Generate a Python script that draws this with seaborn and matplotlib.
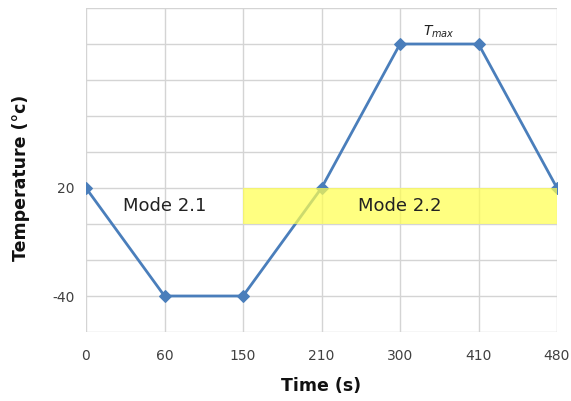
import matplotlib
matplotlib.use("Agg")
import matplotlib.pyplot as plt
import seaborn as sns
import pandas as pd
import numpy as np

time_labels = ["0", "60", "150", "210", "300", "410", "480"]
temperature = [20, -40, -40, 20, 100, 100, 20]
y_tick_values = [20, -40]
modes = ["Mode 2.1", "Mode 2.2"]

sns.set_theme(style="white")
plt.rcParams['font.family'] = ['DejaVu Sans']

df = pd.DataFrame({"pos": np.arange(len(time_labels)), "temp": temperature})

fig = plt.figure(figsize=(5.71, 4.01), dpi=100)
ax = fig.add_axes([86/571, 1-332/401, (557-86)/571, (332-8)/401])

ax.set_xlim(0, len(time_labels)-1)
ax.set_ylim(-60, 120)
for yy in np.arange(-60, 121, 20):
    ax.axhline(yy, color="#d4d4d4", lw=1.0, zorder=0)
for xx in range(len(time_labels)):
    ax.axvline(xx, color="#d4d4d4", lw=1.0, zorder=0)

sns.lineplot(data=df, x="pos", y="temp", ax=ax, color="#4a7ebb", lw=2.0,
             marker="D", markersize=6, markeredgecolor="#4a7ebb", zorder=3)

# yellow band for mode 2.2
ax.fill_between([2, 6], 0, 20, color="#ffff50", alpha=0.72, zorder=4, lw=0)

ax.text(1.0, 10, modes[0], ha="center", va="center", fontsize=13, color="#222222", zorder=5)
ax.text(4.0, 10, modes[1], ha="center", va="center", fontsize=13, color="#222222", zorder=5)
ax.text(4.5, 107, r"$T_{max}$", ha="center", va="center", fontsize=10, color="#222222")

ax.set_xticks(range(len(time_labels)))
ax.set_xticklabels(time_labels)
ax.set_yticks(y_tick_values)
ax.set_yticklabels([str(v) for v in y_tick_values])
ax.tick_params(axis="both", length=0, labelsize=10, colors="#404040")
ax.tick_params(axis="x", pad=12)
ax.tick_params(axis="y", pad=8)
for s in ax.spines.values():
    s.set_visible(False)

ax.set_xlabel("Time (s)", fontsize=12.5, fontweight="bold", color="#111111", labelpad=10)
ax.set_ylabel("Temperature (°c)", fontsize=12.5, fontweight="bold", color="#111111")
ax.yaxis.set_label_coords(-0.119, 0.475)

fig.savefig("out.png", dpi=100)
